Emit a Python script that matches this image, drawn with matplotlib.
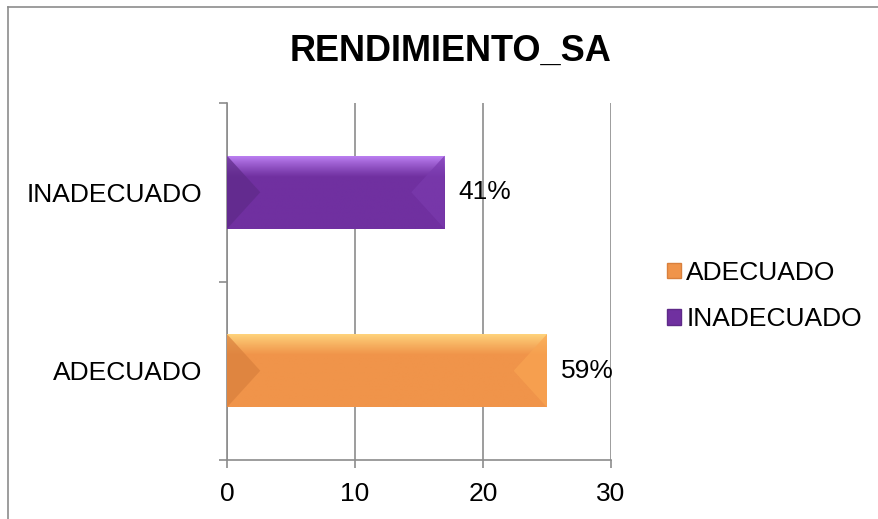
import numpy as np
import matplotlib
matplotlib.use("Agg")
import matplotlib.pyplot as plt
from matplotlib.patches import Rectangle, Polygon
from matplotlib.colors import LinearSegmentedColormap

plt.rcParams["font.family"] = ["Liberation Sans", "DejaVu Sans"]

categories = ["ADECUADO", "INADECUADO"]
values = [25, 17]
labels = ["59%", "41%"]
title = "RENDIMIENTO_SA"
xticks = [0, 10, 20, 30]

base_col = {"ADECUADO": "#F0944A", "INADECUADO": "#7030A0"}
top_col = {"ADECUADO": "#FFD67E", "INADECUADO": "#BE82F5"}
left_col = {"ADECUADO": "#D9803D", "INADECUADO": "#5E2A88"}
right_col = {"ADECUADO": "#F9A552", "INADECUADO": "#7A3AAE"}

fig = plt.figure(figsize=(8.79, 5.19), dpi=100)
ax = fig.add_axes([227 / 879, 1 - 460 / 519, (611 - 227) / 879, (460 - 103) / 519])

# frame around the chart (only left and top visible in the original)
fig.add_artist(plt.Line2D([8 / 879, 8 / 879], [0, 1 - 7 / 519], transform=fig.transFigure,
                          color="#8c8c8c", lw=1.2))
fig.add_artist(plt.Line2D([8 / 879, 1], [1 - 7 / 519, 1 - 7 / 519], transform=fig.transFigure,
                          color="#8c8c8c", lw=1.2))

h = 0.41
bev = 2.6
y = np.arange(len(categories))
for yi, cat, v, lab in zip(y, categories, values, labels):
    y0, y1 = yi - h / 2, yi + h / 2
    rect = Rectangle((0, y0), v, h, facecolor=base_col[cat], edgecolor="none", zorder=3)
    ax.add_patch(rect)
    # vertical gradient: light at the top fading to the base colour
    cmap = LinearSegmentedColormap.from_list("g", [base_col[cat], base_col[cat], top_col[cat]])
    grad = np.linspace(0, 1, 100).reshape(-1, 1) ** 2
    im = ax.imshow(grad, extent=(0, v, y0, y1), origin="lower", cmap=cmap,
                   aspect="auto", zorder=3, interpolation="bilinear")
    im.set_clip_path(rect)
    # bevel sides
    ax.add_patch(Polygon([(0, y0), (bev, yi), (0, y1)], closed=True,
                         facecolor=left_col[cat], edgecolor="none", alpha=0.7, zorder=4))
    ax.add_patch(Polygon([(v, y0), (v - bev, yi), (v, y1)], closed=True,
                         facecolor=right_col[cat], edgecolor="none", alpha=0.7, zorder=4))
    ax.text(v + 1.1, yi, lab, ha="left", va="center", fontsize=19, zorder=5)

ax.set_xlim(0, 30)
ax.set_ylim(-0.5, len(categories) - 0.5)
ax.set_xticks(xticks)
ax.set_xticklabels([str(t) for t in xticks], fontsize=19)
ax.set_yticks(y)
ax.set_yticklabels(categories, fontsize=19)
ax.set_yticks(np.arange(-0.5, len(categories), 1.0), minor=True)
ax.tick_params(axis="y", which="major", length=0, pad=18)
ax.tick_params(axis="y", which="minor", length=6, color="#8c8c8c", width=1.2, direction="out")
ax.tick_params(axis="x", which="major", length=6, color="#8c8c8c", width=1.2, direction="out", pad=10)
ax.grid(axis="x", color="#8c8c8c", lw=1.2, zorder=0)
ax.set_axisbelow(True)
for s in ["top", "right"]:
    ax.spines[s].set_visible(False)
for s in ["left", "bottom"]:
    ax.spines[s].set_color("#8c8c8c")
    ax.spines[s].set_linewidth(1.2)

fig.text(451 / 879, 1 - 51 / 519, title, ha="center", va="center", fontsize=26, fontweight="bold")

handles = [Rectangle((0, 0), 1, 1, facecolor=base_col[c], edgecolor=left_col[c]) for c in categories]
fig.legend(handles, categories, loc="center left", bbox_to_anchor=(656 / 879, 1 - 296 / 519),
           frameon=False, fontsize=19, handlelength=0.55, handleheight=0.55,
           handletextpad=0.2, labelspacing=0.85, borderaxespad=0)

fig.savefig("out.png", dpi=100)
